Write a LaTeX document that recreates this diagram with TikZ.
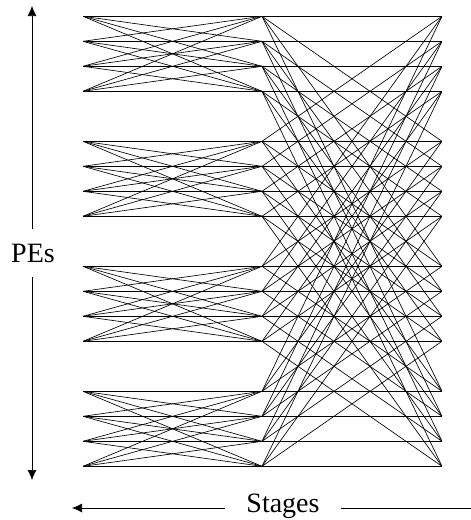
\documentclass[tikz,border=0pt]{standalone}
\usepackage{fontspec}
\setmainfont{Liberation Serif}
\usetikzlibrary{arrows.meta}

\begin{document}
\begin{tikzpicture}[x=1pt,y=-1pt]
        \useasboundingbox (0,0) rectangle (471,520);
        % the three columns of PEs, four groups of four rows
        \begin{scope}[every node/.style={inner sep=0pt,minimum size=0pt}]
                \foreach \g in {0,...,3}
                        \foreach \i in {0,...,3} {
                                \pgfmathtruncatemacro{\k}{4*\g+\i}
                                \node (L\k) at (83,16.3+125*\g+25*\i) {};
                                \node (M\k) at (262,16.3+125*\g+25*\i) {};
                                \node (R\k) at (442,16.3+125*\g+25*\i) {};
                        }
        \end{scope}
        \begin{scope}[every path/.style={line width=0.65pt}]
                % first stage: all to all inside a group
                \foreach \g in {0,...,3}
                        \foreach \i in {0,...,3}
                                \foreach \j in {0,...,3} {
                                        \pgfmathtruncatemacro{\a}{4*\g+\i}
                                        \pgfmathtruncatemacro{\b}{4*\g+\j}
                                        \draw (L\a) -- (M\b);
                                }
                % second stage: all to all across groups
                \foreach \g in {0,...,3}
                        \foreach \i in {0,...,3}
                                \foreach \h in {0,...,3} {
                                        \pgfmathtruncatemacro{\a}{4*\g+\i}
                                        \pgfmathtruncatemacro{\b}{4*\h+\i}
                                        \draw (M\a) -- (R\b);
                                }
        \end{scope}
        \begin{scope}[every node/.style={font=\fontsize{28}{32}\selectfont},
                      every path/.style={line width=0.7pt, >={Latex[length=10pt,width=9pt]}}]
                \node [inner ysep=14pt] (PEs) at (33,253) {PEs};
                \coordinate (PEtop) at (32,6);
                \coordinate (PEbot) at (32,480);
                \draw [->] (PEs.north -| PEtop) -- (PEtop);
                \draw [->] (PEs.south -| PEbot) -- (PEbot);
                \node [inner xsep=21pt] (Stages) at (283,506) {Stages};
                \coordinate (Sleft) at (72,508);
                \coordinate (Sright) at (471,508);
                \draw [->] (Stages.west |- Sleft) -- (Sleft);
                \draw (Stages.east |- Sright) -- (Sright);
        \end{scope}
\end{tikzpicture}
\end{document}
